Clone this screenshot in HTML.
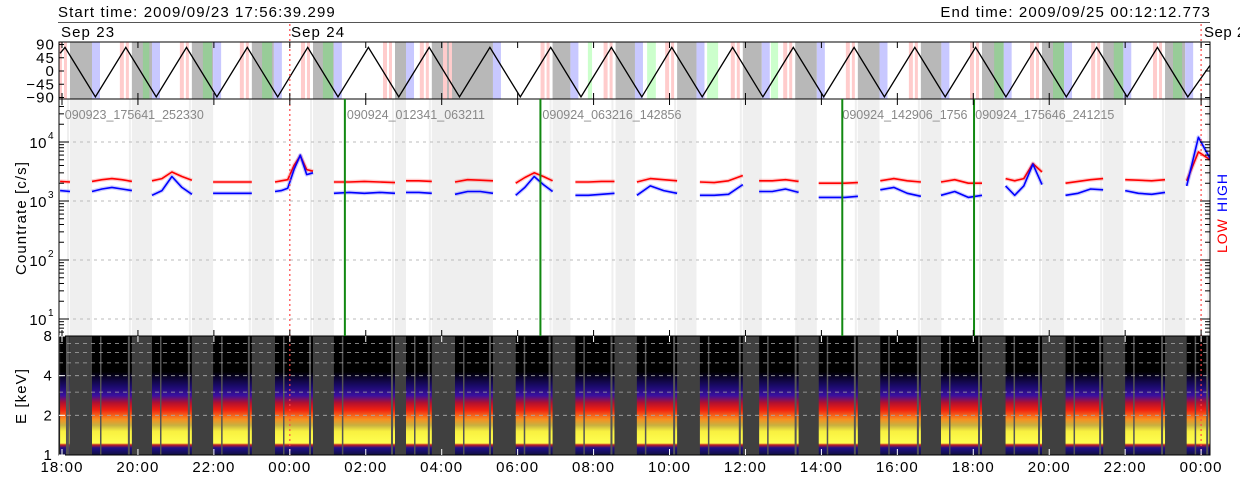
<!DOCTYPE html>
<html><head><meta charset="utf-8"><style>
html,body{margin:0;padding:0;background:#fff;}
svg{display:block;font-family:"Liberation Sans",sans-serif;}
</style></head><body>
<svg id="chart" width="1240" height="480" viewBox="0 0 1240 480" xmlns="http://www.w3.org/2000/svg">
<defs>
<linearGradient id="spec" x1="0" y1="0" x2="0" y2="1">
<stop offset="0" stop-color="#000"/>
<stop offset="0.3" stop-color="#000"/>
<stop offset="0.42" stop-color="#1a0a6a"/>
<stop offset="0.5" stop-color="#3a10a0"/>
<stop offset="0.56" stop-color="#b01030"/>
<stop offset="0.62" stop-color="#f02010"/>
<stop offset="0.7" stop-color="#f89020"/>
<stop offset="0.75" stop-color="#c8b040"/>
<stop offset="0.8" stop-color="#f8f040"/>
<stop offset="0.9" stop-color="#ffff50"/>
<stop offset="0.915" stop-color="#c02020"/>
<stop offset="0.94" stop-color="#20108a"/>
<stop offset="1" stop-color="#101040"/>
</linearGradient>
</defs>
<g id="layer"></g>
</svg>
<script>
// ---- data ----
const hourTicks = [0,2,4,6,8,10,12,14,16,18,20,22,24,26,28,30];
const tickLabels = ["18:00","20:00","22:00","00:00","02:00","04:00","06:00","08:00","10:00","12:00","14:00","16:00","18:00","20:00","22:00","00:00"];
const gapStart = [0.21,1.84,3.42,5.0,6.61,8.77,9.74,10.35,12.92,14.58,16.20,17.93,19.31,20.96,22.62,24.23,25.81,27.42,29.05];
const gapEnd   = [0.79,2.37,3.98,5.58,7.16,9.06,10.35,11.35,13.39,15.09,16.71,18.43,19.88,21.53,23.16,24.80,26.39,27.95,29.58];
const segStart = [-0.05,0.79,2.37,3.98,5.61,7.16,9.06,10.35,11.95,13.52,15.14,16.80,18.36,19.93,21.55,23.15,24.85,26.43,28.0,29.62];
const segEnd   = [0.21,1.84,3.42,5.0,6.61,8.77,9.74,11.35,12.92,14.55,16.20,17.93,19.40,20.96,22.62,24.23,25.81,27.42,29.05,30.24];
const lowVals = [
 [2150,2100],[2150,2300,2400,2300,2150],[2200,2400,3100,2600,2250],[2100,2100,2100,2100,2100],
 [2100,2200,2300,4000,5800,3400,3200],[2100,2100,2150,2100,2050],[2200,2200,2150],[2100,2300,2250,2200],
 [2000,2500,3000,2600,2200],[2100,2100,2150,2150],[2100,2400,2300,2200],[2100,2050,2200,2700],
 [2200,2200,2300,2150],[2000,2000,2000,2050],[2200,2400,2200,2100],[2100,2300,2000,2000],
 [2400,2200,2400,4300,3100],[2000,2150,2300,2400],[2300,2250,2200,2300],[2200,6800,5000]
];
const highVals = [
 [1500,1450],[1450,1600,1700,1600,1500],[1250,1500,2600,1700,1300],[1350,1350,1350,1350,1350],
 [1450,1500,1650,3400,6000,2800,3000],[1350,1400,1350,1400,1350],[1400,1400,1350],[1300,1450,1450,1350],
 [1250,1700,2600,1900,1450],[1250,1250,1300,1350],[1250,1800,1500,1350],[1250,1250,1300,1900],
 [1450,1450,1600,1400],[1150,1150,1150,1200],[1550,1700,1350,1200],[1250,1450,1150,1250],
 [1800,1250,1800,4200,1900],[1250,1350,1600,1550],[1500,1350,1300,1400],[1800,12000,5200]
];
const angleTimes = [-0.05,0.08,0.88,1.68,2.48,3.28,4.08,4.88,5.68,6.47,7.27,8.07,8.87,9.67,10.47,11.27,12.07,12.87,13.67,14.47,15.27,16.06,16.86,17.66,18.46,19.26,20.06,20.86,21.66,22.46,23.26,24.06,24.86,25.65,26.45,27.25,28.05,28.85,29.65,30.24];
const angleVals  = [60,80,-88,80,-88,80,-88,80,-88,80,-88,80,-88,80,-88,80,-88,80,-88,80,-88,80,-88,80,-88,80,-88,80,-88,80,-88,80,-88,80,-88,80,-88,80,-88,20];
const greenStart = [2.13,3.71,5.27,6.87,13.85,15.41,16.99,18.67,24.55,26.10,27.70,29.26];
const greenEnd   = [2.30,3.95,5.53,7.14,13.96,15.64,17.28,18.86,24.80,26.39,27.95,29.50];
const greenDark  = [1,1,1,1,0,0,0,0,1,1,1,1];
const fileLabels = ["090923_175641_252330","090924_012341_063211","090924_063216_142856","090924_142906_1756","090924_175646_241215"];
const fileStarts = [0.02,7.45,12.6,20.5,24.0];
const fileMarks = [7.45,12.6,20.55,24.02];
// ---- scales ----
const X0=62, PXH=37.97, L=59, R=1210;
const x = h => X0 + h*PXH;
const yCnt = v => 201 - (Math.log10(v)-3)*59;
const yAng = a => 71 - a*(26.5/90);
const yE = e => 455 - Math.log2(e)*(119/3);
const NS="http://www.w3.org/2000/svg";
const layer=document.getElementById('layer');
function mk(tag,attrs,parent){const e=document.createElementNS(NS,tag);for(const k in attrs)e.setAttribute(k,attrs[k]);(parent||layer).appendChild(e);return e;}
function txt(s,attrs,parent){const e=mk('text',attrs,parent);e.textContent=s;return e;}
const FS={'font-size':15,'letter-spacing':1.1};

// header
let t=txt("Start time: 2009/09/23 17:56:39.299",Object.assign({x:58,y:17,fill:'#000'},FS));


t=txt("End time: 2009/09/25 00:12:12.773",Object.assign({x:1211,y:17,fill:'#000','text-anchor':'end'},FS));


mk('line',{x1:58,y1:22.5,x2:1210,y2:22.5,stroke:'#555','stroke-width':1});
t=txt("Sep 23",Object.assign({x:61,y:37},FS));


t=txt("Sep 24",Object.assign({x:291,y:37},FS));


t=txt("Sep 25",{x:1204,y:37,'font-size':15,'letter-spacing':0.5});



// ---- top panel (angle) ----
const topG=mk('g',{});


const clipT=mk('clipPath',{id:'ct'});mk('rect',{x:L,y:42,width:R-L,height:57},clipT);
const tb=mk('g',{'clip-path':'url(#ct)'},topG);
for(let i=0;i<gapStart.length;i++){
  let r=mk('rect',{x:x(gapStart[i])-12,y:42,width:4,height:57,fill:'#ffcccc'},tb);
  
  
  mk('rect',{x:x(gapStart[i])-6,y:42,width:3,height:57,fill:'#ffcccc'},tb);
  r=mk('rect',{x:x(gapStart[i]),y:42,width:x(gapEnd[i])-x(gapStart[i]),height:57,fill:'#b8b8b8'},tb);
  
  
  r=mk('rect',{x:x(gapEnd[i]),y:42,width:8,height:57,fill:'#c8c8ff'},tb);
  
  
}
for(let i=0;i<greenStart.length;i++){
  const r=mk('rect',{x:x(greenStart[i]),y:42,width:x(greenEnd[i])-x(greenStart[i]),height:57,fill:greenDark[i]?'#98cc98':'#ccffcc'},tb);
  
  
}
let pts=angleTimes.map((h,i)=>x(h).toFixed(1)+','+yAng(angleVals[i]).toFixed(1)).join(' ');
let pl=mk('polyline',{points:pts,fill:'none',stroke:'#000','stroke-width':1.3},tb);


mk('rect',{x:L,y:42,width:R-L,height:57,fill:'none',stroke:'#000','stroke-width':1},topG);
[90,45,0,-45,-90].forEach(a=>{
  const lab=a<0?'\u2212'+(-a):String(a);
  const e=txt(lab,Object.assign({x:55,y:yAng(a)+5,'text-anchor':'end'},FS),topG);
  
  
  mk('line',{x1:L,y1:yAng(a),x2:L+5,y2:yAng(a),stroke:'#000'},topG);
  mk('line',{x1:R,y1:yAng(a),x2:R-5,y2:yAng(a),stroke:'#000'},topG);
});

// ---- middle panel (count rate) ----
const mid=mk('g',{});


const clipM=mk('clipPath',{id:'cm'});mk('rect',{x:L,y:99,width:R-L,height:237},clipM);
const mb=mk('g',{'clip-path':'url(#cm)'},mid);
for(let i=0;i<gapStart.length;i++){
  const r=mk('rect',{x:x(gapStart[i]),y:99,width:x(gapEnd[i])-x(gapStart[i]),height:237,fill:'#efefef'},mb);
  
  
}
for(let i=0;i<segStart.length;i++){
  mk('rect',{x:x(segEnd[i])-3,y:99,width:2,height:237,fill:'#efefef'},mb);
}
[4,3,2,1].forEach(p=>{
  const g=mk('line',{x1:L,y1:yCnt(Math.pow(10,p)),x2:R,y2:yCnt(Math.pow(10,p)),stroke:'#bbb','stroke-dasharray':'3,4'},mb);
  
  
});
for(let i=0;i<fileLabels.length;i++){
  const e=txt(fileLabels[i],{x:x(fileStarts[i])+2,y:119,'font-size':12.5,fill:'#888'},mb);
  
  
}
function drawSeries(vals,color,name){
  for(let i=0;i<segStart.length;i++){
    const v=vals[i],n=v.length;
    const p=v.map((val,j)=>{const h=segStart[i]+(segEnd[i]-segStart[i])*j/(n-1);return x(h).toFixed(1)+','+yCnt(val).toFixed(1);}).join(' ');
    mk('polyline',{points:p,fill:'none',stroke:color,'stroke-opacity':0.2,'stroke-width':4,'stroke-linejoin':'round'},mb);
    const l=mk('polyline',{points:p,fill:'none',stroke:color,'stroke-width':1.6,'stroke-linejoin':'round'},mb);
    
    
  }
}
drawSeries(lowVals,'#ff0000','low-countrate-line');
drawSeries(highVals,'#0000ff','high-countrate-line');
mk('rect',{x:L,y:99,width:R-L,height:237,fill:'none',stroke:'#000','stroke-width':1},mid);
[1,2,3,4].forEach(p=>{
  const y=yCnt(Math.pow(10,p));
  const e=txt('10',{x:47,y:y+6,'font-size':15,'letter-spacing':0.5,'text-anchor':'end'},mid);
  
  
  txt(String(p),{x:48,y:y-3,'font-size':10},mid);
  mk('line',{x1:L,y1:y,x2:L+10,y2:y,stroke:'#000'},mid);
  mk('line',{x1:R,y1:y,x2:R-10,y2:y,stroke:'#000'},mid);
  for(let m=2;m<10;m++){const ym=yCnt(m*Math.pow(10,p-1));if(ym>99&&ym<336){mk('line',{x1:L,y1:ym,x2:L+5,y2:ym,stroke:'#000'},mid);mk('line',{x1:R,y1:ym,x2:R-5,y2:ym,stroke:'#000'},mid);}}
});
for(let m=2;m<=4;m++){const ym=yCnt(m*1e4);mk('line',{x1:L,y1:ym,x2:L+5,y2:ym,stroke:'#000'},mid);mk('line',{x1:R,y1:ym,x2:R-5,y2:ym,stroke:'#000'},mid);}
let yl=txt('Countrate [c/s]',Object.assign({x:0,y:0,'text-anchor':'middle',transform:'translate(26,218) rotate(-90)'},FS),mid);


let lg=txt('LOW',{x:0,y:0,'font-size':14,'letter-spacing':1,fill:'#ff0000','text-anchor':'start',transform:'translate(1227,253) rotate(-90)'},mid);


lg=txt('HIGH',{x:0,y:0,'font-size':14,'letter-spacing':1,fill:'#0000ff','text-anchor':'start',transform:'translate(1227,212) rotate(-90)'},mid);



// ---- spectrogram ----
const sp=mk('g',{});


mk('rect',{x:L,y:336,width:R-L,height:119,fill:'#404040'},sp);
for(let i=0;i<segStart.length;i++){
  const r=mk('rect',{x:x(segStart[i]),y:336,width:x(segEnd[i])-x(segStart[i]),height:119,fill:'url(#spec)'},sp);
  
  
  mk('rect',{x:x(segEnd[i])-4,y:336,width:2,height:119,fill:'#555'},sp);
  mk('rect',{x:x(segStart[i])+8,y:336,width:1.5,height:119,fill:'#555'},sp);
}
[7,6,5,4,3,2].forEach(e=>{
  const g=mk('line',{x1:L,y1:yE(e),x2:R,y2:yE(e),stroke:'#aaa','stroke-dasharray':'4,4','stroke-width':0.8},sp);
  
  
});
mk('rect',{x:L,y:336,width:R-L,height:119,fill:'none',stroke:'#000'},sp);
[8,4,2,1].forEach(e=>{
  const l=txt(String(e),Object.assign({x:53,y:yE(e)+5,'text-anchor':'end'},FS),sp);
  
  
  mk('line',{x1:L,y1:yE(e),x2:L+6,y2:yE(e),stroke:'#fff'},sp);
});
yl=txt('E [keV]',Object.assign({x:0,y:0,'text-anchor':'middle',transform:'translate(26,396) rotate(-90)'},FS),sp);



// ---- vertical markers ----
for(let i=0;i<fileMarks.length;i++){
  const l=mk('line',{x1:x(fileMarks[i]),y1:99,x2:x(fileMarks[i]),y2:336,stroke:'#118811','stroke-width':2});
  
  
}
[6,30].forEach(h=>{
  const l=mk('line',{x1:x(h),y1:24,x2:x(h),y2:455,stroke:'#ff4444','stroke-dasharray':'2,3','stroke-width':1.2});
  
  
});

// ---- x axis ----
for(let i=0;i<hourTicks.length;i++){
  const xx=x(hourTicks[i]);
  [[42,48],[93,99],[99,105],[330,336],[336,342],[449,455]].forEach(([a,b])=>mk('line',{x1:xx,y1:a,x2:xx,y2:b,stroke:(a>=336?'#fff':'#000')}));
  const l=txt(tickLabels[i],Object.assign({x:xx,y:472,'text-anchor':'middle'},FS));
  
  
}
</script>
</body></html>
